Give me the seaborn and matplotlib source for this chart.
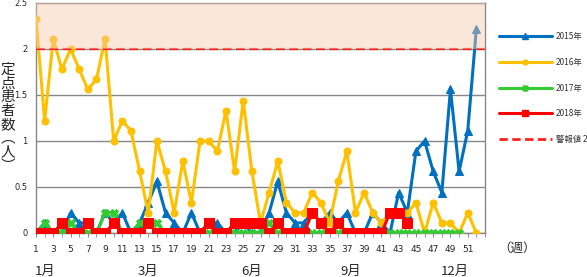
import numpy as np
import pandas as pd
import matplotlib
matplotlib.use("Agg")
import matplotlib.pyplot as plt
import seaborn as sns

weeks = list(range(1, 53))
y2015 = [0, 0.11, 0, 0, 0.22, 0.11, 0.11, 0, 0.22, 0.11,
         0.22, 0, 0.11, 0.33, 0.56, 0.22, 0.11, 0, 0.22, 0,
         0.11, 0.11, 0, 0, 0.11, 0, 0, 0.22, 0.56, 0.22,
         0.11, 0.11, 0.22, 0.11, 0.22, 0.11, 0.22, 0, 0, 0.22,
         0.11, 0, 0.44, 0.22, 0.89, 1.0, 0.67, 0.44, 1.56, 0.67,
         1.11, 2.22]
y2016 = [2.33, 1.22, 2.11, 1.78, 2.0, 1.78, 1.56, 1.67, 2.11, 1.0,
         1.22, 1.11, 0.67, 0.22, 1.0, 0.67, 0.22, 0.78, 0.33, 1.0,
         1.0, 0.89, 1.33, 0.67, 1.44, 0.67, 0.11, 0.44, 0.78, 0.33,
         0.22, 0.22, 0.44, 0.33, 0.11, 0.56, 0.89, 0.22, 0.44, 0.22,
         0.11, 0.22, 0.22, 0.22, 0.33, 0, 0.33, 0.11, 0.11, 0,
         0.22, 0]
y2017 = [0, 0.11, 0, 0, 0.11, 0, 0, 0, 0.22, 0.22,
         0, 0, 0.11, 0.11, 0.11, 0, 0, 0, 0, 0,
         0, 0, 0, 0, 0, 0, 0, 0.11, 0, 0,
         0, 0, 0, 0, 0, 0, 0, 0, 0, 0,
         0, 0, 0, 0, 0, 0, 0, 0, 0, 0]
y2018 = [0, 0, 0, 0.11, 0, 0, 0.11, 0, 0, 0.11,
         0, 0, 0, 0.11, 0, 0, 0, 0, 0, 0,
         0.11, 0, 0, 0.11, 0.11, 0.11, 0.11, 0, 0.11, 0,
         0, 0, 0.22, 0.11, 0, 0.11, 0, 0, 0, 0,
         0, 0.22, 0.22, 0.11]
alert = 2
series_names = ["2015年", "2016年", "2017年", "2018年"]
legend_alert = "警報値 2"
xtick_labels = [str(w) for w in range(1, 53, 2)]
month_labels = ["1月", "3月", "6月", "9月", "12月"]
month_weeks = [2, 14, 26, 37.5, 49.5]
ylabel_chars = ["定", "点", "患", "者", "数", "︵", "人", "︶"]

sns.set_style("white")
plt.rcParams['font.family'] = ['Noto Sans CJK JP', 'DejaVu Sans']

W, H = 587, 277
fig = plt.figure(figsize=(W/100, H/100), dpi=100)
ax = fig.add_axes([36/W, 1-233/H, (485-36)/W, 230/H])

colors = ["#0070C0", "#FFC000", "#33CC33", "#FF0000"]
markers = ["^", "o", "X", "s"]
msizes = [6, 5, 6, 7]
data = [y2015, y2016, y2017, y2018]
handles = []
for name, vals, c, m, ms in zip(series_names, data, colors, markers, msizes):
    df = pd.DataFrame({"week": weeks[:len(vals)], "val": vals})
    sns.lineplot(data=df, x="week", y="val", ax=ax, color=c, marker=m,
                 markersize=ms, linewidth=2.2, markeredgecolor=c, label=name,
                 legend=False, zorder=3)
    handles.append(plt.Line2D([], [], color=c, marker=m, markersize=ms * 0.7,
                              linewidth=2.2, markeredgecolor=c))

ax.axhline(alert, color="#FF2020", linestyle=(0, (4, 2)), linewidth=1.6, zorder=4)
handles.append(plt.Line2D([], [], color="#FF2020", linestyle=(0, (3, 1.6)), linewidth=2))
ax.axhspan(2, 2.5, color="#F8CBAD", alpha=0.45, zorder=5, linewidth=0)

ax.set_xlim(1, 53)
ax.set_ylim(0, 2.5)
ax.set_yticks([0, 0.5, 1, 1.5, 2, 2.5])
ax.set_yticklabels(["0", "0.5", "1", "1.5", "2", "2.5"], fontsize=6, family="DejaVu Sans")
ax.set_xticks(list(range(1, 53, 2)))
ax.set_xticklabels(xtick_labels, fontsize=6.5, family="DejaVu Sans")
ax.set_xticks(list(range(1, 54)), minor=True)
ax.tick_params(axis="x", which="both", length=3, color="#888888", pad=6, direction="out", bottom=True)
ax.tick_params(axis="y", length=0, pad=6)
ax.yaxis.grid(True, color="#888888", linewidth=1)
ax.set_axisbelow(True)
for s in ["left", "right", "top", "bottom"]:
    ax.spines[s].set_color("#888888")
    ax.spines[s].set_linewidth(1)
ax.set_xlabel("")
ax.set_ylabel("")

leg = ax.legend(handles, series_names + [legend_alert], loc="upper left",
                bbox_to_anchor=(1.015, 0.905), frameon=False, fontsize=6,
                handlelength=6.3, labelspacing=2.0, handletextpad=0.5)
for t in leg.get_texts():
    t.set_color("#333333")

ax.text(1.03, -0.04, "（週）", transform=ax.transAxes, fontsize=9, va="top", ha="left")
for lab, w in zip(month_labels, month_weeks):
    ax.text(w, -0.14, lab, transform=ax.get_xaxis_transform(), fontsize=9.5,
            ha="center", va="top")
for i, ch in enumerate(ylabel_chars):
    fig.text(7.5/W, 1-(70 + 13.7*i)/H, ch, fontsize=10.5, ha="center", va="center")

fig.savefig("out.png", dpi=100)
